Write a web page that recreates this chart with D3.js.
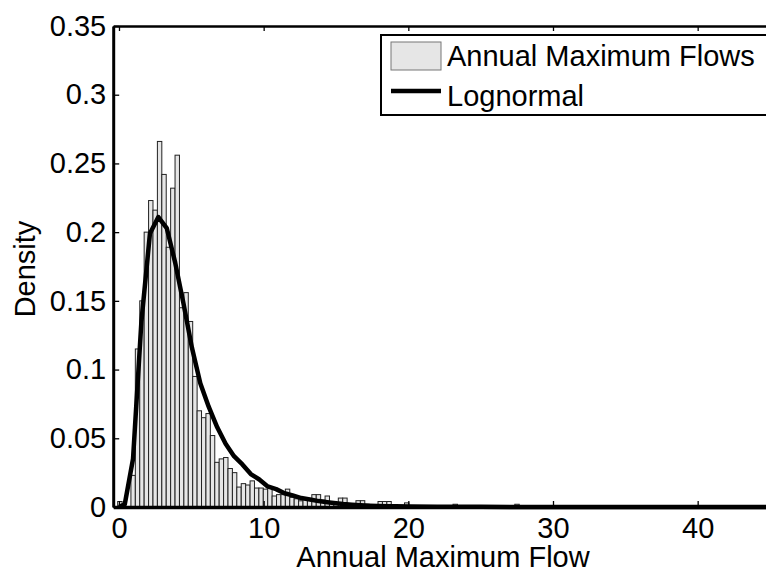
<!DOCTYPE html>
<html>
<head>
<meta charset="utf-8">
<script src="https://cdn.jsdelivr.net/npm/d3@7"></script>
<style>
  body { margin: 0; background: #fff; }
  text { font-family: "Liberation Sans", Arial, sans-serif; }
</style>
</head>
<body>
<div id="chart-area"></div>
<script>
// histogram bins (left edge of first bin + width), density per bin
const binStart = -0.09
const binWidth = 0.305
const densities = [
  0.004, 0, 0, 0.023, 0.115, 0.15, 0.200, 0.223, 0.216, 0.266,
  0.242, 0.189, 0.232, 0.256, 0.145, 0.156, 0.135, 0.095, 0.070, 0.065,
  0.068, 0.052, 0.0325, 0.035, 0.036, 0.028, 0.025, 0.0145, 0.017, 0.016,
  0.019, 0.0138, 0.0138, 0.013, 0.0138, 0.008, 0.009, 0.009, 0.013, 0.007,
  0.006, 0.0045, 0.0055, 0.006, 0.009, 0.009, 0.005, 0.008, 0.004, 0.0025,
  0.0065, 0.0065, 0.0025, 0.002, 0.0046, 0.0046, 0.002, 0.001, 0.001, 0.004,
  0.004, 0.004, 0.001, 0, 0.001, 0.003, 0, 0, 0, 0,
  0, 0, 0, 0, 0, 0, 0.002, 0, 0, 0,
  0, 0, 0, 0, 0, 0, 0, 0, 0, 0,
  0.002
]

// fitted lognormal curve
const curveX = [0, 0.4, 0.97, 1.55, 2.14, 2.72, 3.3, 3.88, 4.46, 5.04,
  5.62, 6.2, 6.79, 7.37, 7.95, 8.53, 9.11, 9.7, 10.28, 10.86,
  11.44, 12.0, 12.6, 13.2, 13.8, 14.4, 15.0, 15.5, 16.1, 16.7,
  17.3, 17.9, 18.5, 19.1, 20.2, 22, 25, 30, 45]
const curveY = [0, 0.002, 0.035, 0.135, 0.199, 0.211, 0.203, 0.178, 0.148, 0.116,
  0.09, 0.073, 0.058, 0.046, 0.037, 0.031, 0.024, 0.020, 0.015, 0.013,
  0.010, 0.0085, 0.0065, 0.0055, 0.0043, 0.0035, 0.0028, 0.0022, 0.0017, 0.0013,
  0.001, 0.0008, 0.0006, 0.0005, 0.0003, 0.0002, 0.0001, 0, 0]

const xTicks = [0, 10, 20, 30, 40]
const yTicks = [0, 0.05, 0.1, 0.15, 0.2, 0.25, 0.3, 0.35]
const legendLabels = ["Annual Maximum Flows", "Lognormal"]

const width = 766, height = 572
const fontSize = 29

let svg = d3.select("#chart-area").append("svg")
  .attr("width", width)
  .attr("height", height)

let x = d3.scaleLinear().domain([-0.4, 45]).range([113.2, 770])
let y = d3.scaleLinear().domain([0, 0.35]).range([507, 26])

// bars
svg.append("g").selectAll("rect")
  .data(densities)
  .enter().append("rect")
    .attr("x", (d, i) => x(binStart + i * binWidth))
    .attr("width", x(binWidth) - x(0))
    .attr("y", d => y(d))
    .attr("height", d => y(0) - y(d))
    .attr("fill", "#e6e6e6")
    .attr("stroke", "#222")
    .attr("stroke-width", 1)

// lognormal curve
let line = d3.line()
  .x((d, i) => x(curveX[i]))
  .y(d => y(d))

svg.append("path")
  .datum(curveY)
  .attr("d", line)
  .attr("fill", "none")
  .attr("stroke", "#000")
  .attr("stroke-width", 4.5)
  .attr("stroke-linejoin", "round")

// axes
const styleAxis = (g, domainWidth) => {
  g.attr("font-size", fontSize).attr("font-family", null)
  g.select(".domain").attr("stroke", "#000").attr("stroke-width", domainWidth)
  g.selectAll(".tick line").attr("stroke", "#000").attr("stroke-width", 1.3)
  g.selectAll(".tick text").attr("fill", "#000")
}

let yAxisCall = d3.axisLeft(y)
  .tickValues(yTicks)
  .tickSize(-6)
  .tickSizeOuter(0)
  .tickPadding(7)
  .tickFormat(d => d === 0 ? "0" : d3.format(".2~f")(d))
svg.append("g")
  .attr("transform", "translate(" + x(-0.4) + ",0)")
  .call(yAxisCall)
  .call(g => styleAxis(g, 3))

let xAxisCall = d3.axisBottom(x)
  .tickValues(xTicks)
  .tickSize(-6)
  .tickSizeOuter(0)
  .tickPadding(10)
svg.append("g")
  .attr("transform", "translate(0," + y(0) + ")")
  .call(xAxisCall)
  .call(g => styleAxis(g, 3.5))

let topAxisCall = d3.axisTop(x)
  .tickValues(xTicks)
  .tickSize(-5)
  .tickSizeOuter(0)
  .tickFormat("")
svg.append("g")
  .attr("transform", "translate(0," + y(0.35) + ")")
  .call(topAxisCall)
  .call(g => styleAxis(g, 2.5))

// axis labels
svg.append("text")
  .attr("x", 443)
  .attr("y", 567)
  .attr("text-anchor", "middle")
  .style("font-size", fontSize + "px")
  .text("Annual Maximum Flow")

svg.append("text")
  .attr("transform", "translate(35,269) rotate(-90)")
  .attr("text-anchor", "middle")
  .style("font-size", fontSize + "px")
  .text("Density")

// legend
let legend = svg.append("g")
legend.append("rect")
  .attr("x", 381).attr("y", 35)
  .attr("width", 420).attr("height", 80)
  .attr("fill", "#fff")
  .attr("stroke", "#000")
  .attr("stroke-width", 2)
legend.append("rect")
  .attr("x", 391).attr("y", 42)
  .attr("width", 50).attr("height", 28)
  .attr("fill", "#e6e6e6")
  .attr("stroke", "#777")
  .attr("stroke-width", 1)
legend.append("line")
  .attr("x1", 391).attr("x2", 441)
  .attr("y1", 91).attr("y2", 91)
  .attr("stroke", "#000")
  .attr("stroke-width", 4.5)
legend.selectAll("text.entry")
  .data(legendLabels)
  .enter().append("text")
    .attr("class", "entry")
    .attr("x", 447)
    .attr("y", (d, i) => 66 + i * 40)
    .style("font-size", fontSize + "px")
    .text(d => d)
</script>
</body>
</html>
